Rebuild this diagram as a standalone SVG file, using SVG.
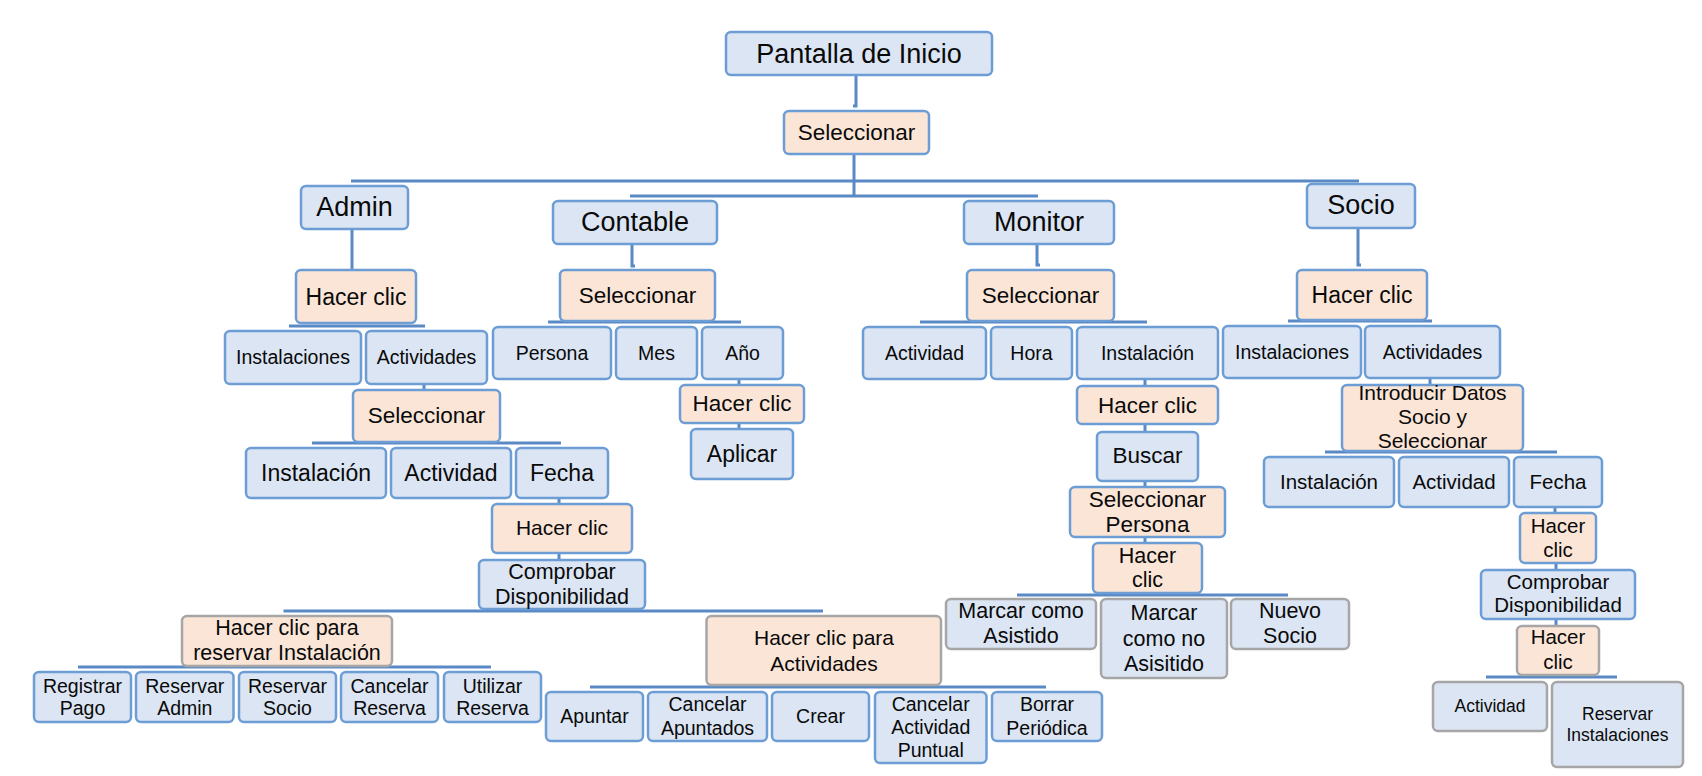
<svg xmlns="http://www.w3.org/2000/svg" width="1702" height="776" viewBox="0 0 1702 776">
<style>
.bx{rx:5px;ry:5px;stroke-width:2.5}
.b{fill:#DBE5F3;stroke:#6C9DD4}
.o{fill:#FBE5D7;stroke:#6C9DD4}
.g{fill:#DBE5F3;stroke:#A6A6A6}
.og{fill:#FBE5D7;stroke:#A6A6A6}
text{font-family:"Liberation Sans",Arial,sans-serif;text-anchor:middle;fill:#0A0A0A}
.f27{font-size:27px}
.f23{font-size:23px}
.f225{font-size:22.5px}
.f215{font-size:21.5px}
.f21{font-size:21px}
.f205{font-size:20.5px}
.f195{font-size:19.5px}
.f175{font-size:17.5px}
</style>
<rect width="1702" height="776" fill="#FFFFFF"/>
<g id="connectors" fill="none" stroke="#5A8AC6" stroke-width="3">
<path d="M856 75 V106 H853"/>
<path d="M854 154 V196"/>
<path d="M351 181 H1359"/>
<path d="M630 196 H1038"/>
<path d="M352 229 V270"/>
<path d="M632 244 V266 H635"/>
<path d="M1037 244 V265 H1040"/>
<path d="M1358 228 V265 H1361"/>
<path d="M289 326 H425"/>
<path d="M424 384 V390"/>
<path d="M312 443 H561"/>
<path d="M559 498 V504"/>
<path d="M559 553 V560"/>
<path d="M283.5 611 H823"/>
<path d="M78 667 H491"/>
<path d="M590 687 H1046"/>
<path d="M548 322 H741"/>
<path d="M739 379 V385"/>
<path d="M739 423 V429"/>
<path d="M920 322 H1147"/>
<path d="M1145 379 V386"/>
<path d="M1145 424 V432"/>
<path d="M1145 481 V487"/>
<path d="M1145 537 V543"/>
<path d="M1017 595 H1288"/>
<path d="M1288 321 H1432"/>
<path d="M1430 378 V385"/>
<path d="M1325 452 H1557"/>
<path d="M1555 507 V513"/>
<path d="M1556 563 V570"/>
<path d="M1556 619 V626"/>
<path d="M1486 677 H1617"/>
</g>

<g id="pantalla"><rect class="bx b" x="726" y="32" width="266" height="43"/><text class="f27" x="859" y="62.5">Pantalla de Inicio</text></g>
<g id="seleccionar0"><rect class="bx o" x="784" y="111" width="145" height="43"/><text class="f225" x="856.5" y="140">Seleccionar</text></g>

<g id="admin"><rect class="bx b" x="301" y="186" width="107" height="43"/><text class="f27" x="354.5" y="216">Admin</text></g>
<g id="contable"><rect class="bx b" x="553" y="201" width="164" height="43"/><text class="f27" x="635" y="231">Contable</text></g>
<g id="monitor"><rect class="bx b" x="964" y="201" width="150" height="43"/><text class="f27" x="1039" y="231">Monitor</text></g>
<g id="socio"><rect class="bx b" x="1307" y="184" width="108" height="44"/><text class="f27" x="1361" y="214">Socio</text></g>

<!-- Admin subtree -->
<g id="admin-hacer-clic"><rect class="bx o" x="296" y="270" width="120" height="53"/><text class="f23" x="356" y="305">Hacer clic</text></g>
<g id="admin-instalaciones"><rect class="bx b" x="225" y="331" width="136" height="53"/><text class="f195" x="293" y="364">Instalaciones</text></g>
<g id="admin-actividades"><rect class="bx b" x="366" y="331" width="121" height="53"/><text class="f195" x="426.5" y="364">Actividades</text></g>
<g id="admin-seleccionar"><rect class="bx o" x="353" y="390" width="147" height="52"/><text class="f225" x="426.5" y="423">Seleccionar</text></g>
<g id="admin-instalacion"><rect class="bx b" x="246" y="448" width="140" height="50"/><text class="f23" x="316" y="481">Instalación</text></g>
<g id="admin-actividad"><rect class="bx b" x="391" y="448" width="120" height="50"/><text class="f23" x="451" y="481">Actividad</text></g>
<g id="admin-fecha"><rect class="bx b" x="516" y="448" width="92" height="50"/><text class="f23" x="562" y="481">Fecha</text></g>
<g id="admin-hacer-clic2"><rect class="bx o" x="492" y="504" width="140" height="49"/><text class="f21" x="562" y="535">Hacer clic</text></g>
<g id="admin-comprobar"><rect class="bx b" x="479" y="560" width="166" height="49"/><text class="f215" x="562"><tspan x="562" y="579">Comprobar</tspan><tspan x="562" y="604">Disponibilidad</tspan></text></g>
<g id="admin-reservar-instalacion"><rect class="bx og" x="182" y="616" width="210" height="50"/><text class="f215" x="287"><tspan x="287" y="635">Hacer clic para</tspan><tspan x="287" y="660">reservar Instalación</tspan></text></g>
<g id="registrar-pago"><rect class="bx b" x="34" y="672" width="97" height="50"/><text class="f195" x="82.5"><tspan x="82.5" y="693">Registrar</tspan><tspan x="82.5" y="715">Pago</tspan></text></g>
<g id="reservar-admin"><rect class="bx b" x="136" y="672" width="97.5" height="50"/><text class="f195" x="184.8"><tspan x="184.8" y="693">Reservar</tspan><tspan x="184.8" y="715">Admin</tspan></text></g>
<g id="reservar-socio"><rect class="bx b" x="239" y="672" width="97" height="50"/><text class="f195" x="287.5"><tspan x="287.5" y="693">Reservar</tspan><tspan x="287.5" y="715">Socio</tspan></text></g>
<g id="cancelar-reserva"><rect class="bx b" x="341" y="672" width="97" height="50"/><text class="f195" x="389.5"><tspan x="389.5" y="693">Cancelar</tspan><tspan x="389.5" y="715">Reserva</tspan></text></g>
<g id="utilizar-reserva"><rect class="bx b" x="444" y="672" width="97" height="50"/><text class="f195" x="492.5"><tspan x="492.5" y="693">Utilizar</tspan><tspan x="492.5" y="715">Reserva</tspan></text></g>
<g id="admin-actividades-clic"><rect class="bx og" x="706.5" y="616" width="234.5" height="69"/><text class="f21" x="824"><tspan x="824" y="645">Hacer clic para</tspan><tspan x="824" y="671">Actividades</tspan></text></g>
<g id="apuntar"><rect class="bx b" x="546" y="692" width="97" height="49"/><text class="f195" x="594.5" y="723">Apuntar</text></g>
<g id="cancelar-apuntados"><rect class="bx b" x="648" y="692" width="119" height="49"/><text class="f195" x="707.5"><tspan x="707.5" y="711">Cancelar</tspan><tspan x="707.5" y="735">Apuntados</tspan></text></g>
<g id="crear"><rect class="bx b" x="772" y="692" width="97" height="49"/><text class="f195" x="820.5" y="723">Crear</text></g>
<g id="cancelar-actividad-puntual"><rect class="bx b" x="875" y="692" width="111.5" height="71"/><text class="f195" x="930.7"><tspan x="930.7" y="711">Cancelar</tspan><tspan x="930.7" y="734">Actividad</tspan><tspan x="930.7" y="757">Puntual</tspan></text></g>
<g id="borrar-periodica"><rect class="bx b" x="992" y="692" width="110" height="49"/><text class="f195" x="1047"><tspan x="1047" y="711">Borrar</tspan><tspan x="1047" y="735">Periódica</tspan></text></g>

<!-- Contable subtree -->
<g id="contable-seleccionar"><rect class="bx o" x="560" y="270" width="155" height="51"/><text class="f225" x="637.5" y="303">Seleccionar</text></g>
<g id="persona"><rect class="bx b" x="493" y="327" width="118" height="52"/><text class="f195" x="552" y="360">Persona</text></g>
<g id="mes"><rect class="bx b" x="616" y="327" width="81" height="52"/><text class="f195" x="656.5" y="360">Mes</text></g>
<g id="anio"><rect class="bx b" x="702" y="327" width="81" height="52"/><text class="f195" x="742.5" y="360">Año</text></g>
<g id="contable-hacer-clic"><rect class="bx o" x="680" y="385" width="124" height="38"/><text class="f225" x="742" y="411">Hacer clic</text></g>
<g id="aplicar"><rect class="bx b" x="691" y="429" width="102" height="50"/><text class="f23" x="742" y="462">Aplicar</text></g>

<!-- Monitor subtree -->
<g id="monitor-seleccionar"><rect class="bx o" x="967" y="270" width="147" height="51"/><text class="f225" x="1040.5" y="303">Seleccionar</text></g>
<g id="monitor-actividad"><rect class="bx b" x="863" y="327" width="123" height="52"/><text class="f195" x="924.5" y="360">Actividad</text></g>
<g id="hora"><rect class="bx b" x="991" y="327" width="81" height="52"/><text class="f195" x="1031.5" y="360">Hora</text></g>
<g id="monitor-instalacion"><rect class="bx b" x="1077" y="327" width="141" height="52"/><text class="f195" x="1147.5" y="360">Instalación</text></g>
<g id="monitor-hacer-clic"><rect class="bx o" x="1077" y="386" width="141" height="38"/><text class="f225" x="1147.5" y="413">Hacer clic</text></g>
<g id="buscar"><rect class="bx b" x="1097" y="432" width="101" height="49"/><text class="f225" x="1147.5" y="463">Buscar</text></g>
<g id="seleccionar-persona"><rect class="bx o" x="1070" y="487" width="155" height="50"/><text class="f225" x="1147.5"><tspan x="1147.5" y="507">Seleccionar</tspan><tspan x="1147.5" y="532">Persona</tspan></text></g>
<g id="monitor-hacer-clic2"><rect class="bx o" x="1093" y="543" width="109" height="50"/><text class="f215" x="1147.5"><tspan x="1147.5" y="563">Hacer</tspan><tspan x="1147.5" y="587">clic</tspan></text></g>
<g id="marcar-asistido"><rect class="bx g" x="946" y="599" width="150" height="50"/><text class="f215" x="1021"><tspan x="1021" y="618">Marcar como</tspan><tspan x="1021" y="643">Asistido</tspan></text></g>
<g id="marcar-no-asistido"><rect class="bx g" x="1101" y="599" width="126" height="79"/><text class="f215" x="1164"><tspan x="1164" y="620">Marcar</tspan><tspan x="1164" y="646">como no</tspan><tspan x="1164" y="671">Asisitido</tspan></text></g>
<g id="nuevo-socio"><rect class="bx g" x="1231" y="599" width="118" height="50"/><text class="f215" x="1290"><tspan x="1290" y="618">Nuevo</tspan><tspan x="1290" y="643">Socio</tspan></text></g>

<!-- Socio subtree -->
<g id="socio-hacer-clic"><rect class="bx o" x="1297" y="270" width="130" height="50"/><text class="f23" x="1362" y="303">Hacer clic</text></g>
<g id="socio-instalaciones"><rect class="bx b" x="1223" y="326" width="138" height="52"/><text class="f195" x="1292" y="359">Instalaciones</text></g>
<g id="socio-actividades"><rect class="bx b" x="1365" y="326" width="135" height="52"/><text class="f195" x="1432.5" y="359">Actividades</text></g>
<g id="introducir-datos"><rect class="bx o" x="1342" y="385" width="181" height="66"/><text class="f21" x="1432.5"><tspan x="1432.5" y="400">Introducir Datos</tspan><tspan x="1432.5" y="424">Socio y</tspan><tspan x="1432.5" y="448">Seleccionar</tspan></text></g>
<g id="socio-instalacion"><rect class="bx b" x="1264" y="457" width="130" height="50"/><text class="f205" x="1329" y="488.5">Instalación</text></g>
<g id="socio-actividad"><rect class="bx b" x="1399" y="457" width="110" height="50"/><text class="f205" x="1454" y="488.5">Actividad</text></g>
<g id="socio-fecha"><rect class="bx b" x="1514" y="457" width="88" height="50"/><text class="f205" x="1558" y="488.5">Fecha</text></g>
<g id="socio-hacer-clic2"><rect class="bx o" x="1520" y="513" width="76" height="50"/><text class="f205" x="1558"><tspan x="1558" y="532.5">Hacer</tspan><tspan x="1558" y="557">clic</tspan></text></g>
<g id="socio-comprobar"><rect class="bx b" x="1481" y="570" width="154" height="49"/><text class="f205" x="1558"><tspan x="1558" y="588.5">Comprobar</tspan><tspan x="1558" y="612">Disponibilidad</tspan></text></g>
<g id="socio-hacer-clic3"><rect class="bx og" x="1517" y="626" width="82" height="49"/><text class="f205" x="1558"><tspan x="1558" y="644">Hacer</tspan><tspan x="1558" y="669">clic</tspan></text></g>
<g id="socio-actividad-final"><rect class="bx g" x="1433" y="682" width="114" height="49"/><text class="f175" x="1490" y="712">Actividad</text></g>
<g id="reservar-instalaciones"><rect class="bx g" x="1552" y="682" width="131" height="85"/><text class="f175" x="1617.5"><tspan x="1617.5" y="720">Reservar</tspan><tspan x="1617.5" y="741">Instalaciones</tspan></text></g>
</svg>
